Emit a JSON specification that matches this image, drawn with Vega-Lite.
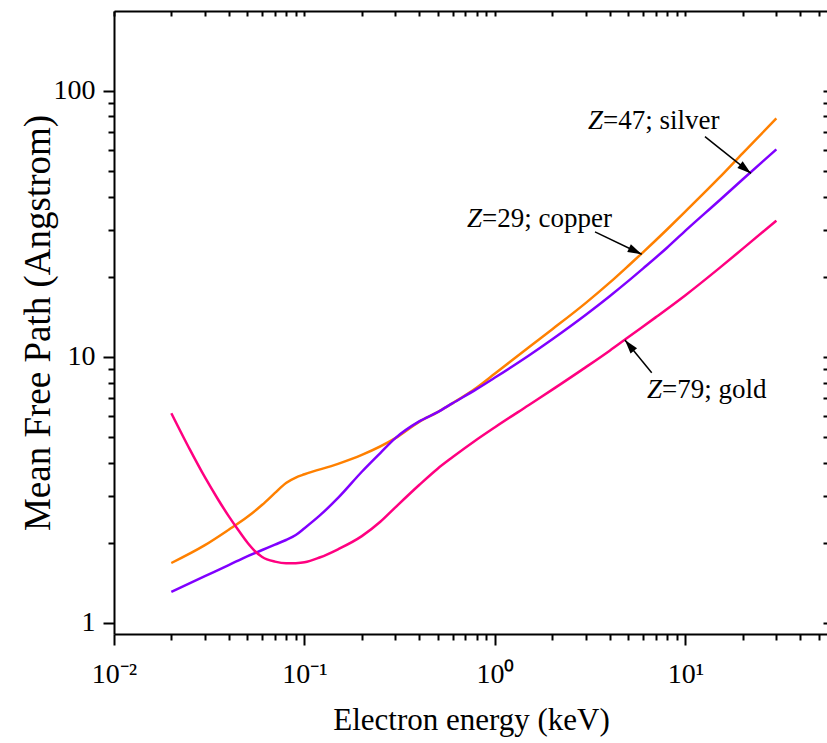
{
  "$schema": "https://vega.github.io/schema/vega-lite/v6.json",
  "width": 714,
  "height": 623,
  "autosize": {"type": "none"},
  "padding": {"left": 114, "top": 11, "right": 0, "bottom": 109},
  "background": "white",
  "config": {
    "view": {"stroke": null},
    "font": "Liberation Serif",
    "axis": {
      "grid": false,
      "ticks": true,
      "domainColor": "#000000",
      "domainWidth": 2,
      "tickColor": "#000000",
      "tickOpacity": 1,
      "tickWidth": 2,
      "labelColor": "#000000",
      "labelFont": "Liberation Serif",
      "labelFontSize": 28,
      "labelOverlap": false,
      "labelFlush": false,
      "titleColor": "#000000",
      "titleFont": "Liberation Serif",
      "titleFontWeight": "normal",
      "zindex": 1
    }
  },
  "datasets": {
    "curves": [
      {"metal": "copper", "energy": 0.02, "mfp": 1.68},
      {"metal": "copper", "energy": 0.03, "mfp": 1.96},
      {"metal": "copper", "energy": 0.04, "mfp": 2.24},
      {"metal": "copper", "energy": 0.05, "mfp": 2.50},
      {"metal": "copper", "energy": 0.06, "mfp": 2.78},
      {"metal": "copper", "energy": 0.07, "mfp": 3.08},
      {"metal": "copper", "energy": 0.08, "mfp": 3.36},
      {"metal": "copper", "energy": 0.09, "mfp": 3.52},
      {"metal": "copper", "energy": 0.1, "mfp": 3.62},
      {"metal": "copper", "energy": 0.15, "mfp": 3.96},
      {"metal": "copper", "energy": 0.2, "mfp": 4.28},
      {"metal": "copper", "energy": 0.3, "mfp": 4.95},
      {"metal": "copper", "energy": 0.4, "mfp": 5.7},
      {"metal": "copper", "energy": 0.5, "mfp": 6.2},
      {"metal": "copper", "energy": 0.6, "mfp": 6.7},
      {"metal": "copper", "energy": 0.8, "mfp": 7.65},
      {"metal": "copper", "energy": 1, "mfp": 8.65},
      {"metal": "copper", "energy": 1.5, "mfp": 10.85},
      {"metal": "copper", "energy": 2, "mfp": 12.7},
      {"metal": "copper", "energy": 3, "mfp": 15.95},
      {"metal": "copper", "energy": 4, "mfp": 19.0},
      {"metal": "copper", "energy": 5, "mfp": 21.95},
      {"metal": "copper", "energy": 6, "mfp": 24.75},
      {"metal": "copper", "energy": 8, "mfp": 30.1},
      {"metal": "copper", "energy": 10, "mfp": 35.2},
      {"metal": "copper", "energy": 15, "mfp": 47.0},
      {"metal": "copper", "energy": 20, "mfp": 58.3},
      {"metal": "copper", "energy": 30, "mfp": 78.7},

      {"metal": "silver", "energy": 0.02, "mfp": 1.31},
      {"metal": "silver", "energy": 0.03, "mfp": 1.50},
      {"metal": "silver", "energy": 0.04, "mfp": 1.65},
      {"metal": "silver", "energy": 0.05, "mfp": 1.78},
      {"metal": "silver", "energy": 0.06, "mfp": 1.88},
      {"metal": "silver", "energy": 0.07, "mfp": 1.97},
      {"metal": "silver", "energy": 0.08, "mfp": 2.05},
      {"metal": "silver", "energy": 0.09, "mfp": 2.14},
      {"metal": "silver", "energy": 0.1, "mfp": 2.27},
      {"metal": "silver", "energy": 0.12, "mfp": 2.53},
      {"metal": "silver", "energy": 0.15, "mfp": 2.95},
      {"metal": "silver", "energy": 0.2, "mfp": 3.70},
      {"metal": "silver", "energy": 0.25, "mfp": 4.35},
      {"metal": "silver", "energy": 0.3, "mfp": 4.95},
      {"metal": "silver", "energy": 0.4, "mfp": 5.72},
      {"metal": "silver", "energy": 0.5, "mfp": 6.2},
      {"metal": "silver", "energy": 0.6, "mfp": 6.7},
      {"metal": "silver", "energy": 0.8, "mfp": 7.56},
      {"metal": "silver", "energy": 1, "mfp": 8.36},
      {"metal": "silver", "energy": 1.5, "mfp": 10.1},
      {"metal": "silver", "energy": 2, "mfp": 11.65},
      {"metal": "silver", "energy": 3, "mfp": 14.4},
      {"metal": "silver", "energy": 4, "mfp": 16.9},
      {"metal": "silver", "energy": 5, "mfp": 19.25},
      {"metal": "silver", "energy": 6, "mfp": 21.5},
      {"metal": "silver", "energy": 8, "mfp": 25.7},
      {"metal": "silver", "energy": 10, "mfp": 29.8},
      {"metal": "silver", "energy": 15, "mfp": 38.6},
      {"metal": "silver", "energy": 20, "mfp": 46.5},
      {"metal": "silver", "energy": 30, "mfp": 60.2},

      {"metal": "gold", "energy": 0.02, "mfp": 6.14},
      {"metal": "gold", "energy": 0.025, "mfp": 4.49},
      {"metal": "gold", "energy": 0.03, "mfp": 3.53},
      {"metal": "gold", "energy": 0.035, "mfp": 2.93},
      {"metal": "gold", "energy": 0.04, "mfp": 2.52},
      {"metal": "gold", "energy": 0.045, "mfp": 2.23},
      {"metal": "gold", "energy": 0.05, "mfp": 2.01},
      {"metal": "gold", "energy": 0.055, "mfp": 1.86},
      {"metal": "gold", "energy": 0.06, "mfp": 1.77},
      {"metal": "gold", "energy": 0.07, "mfp": 1.70},
      {"metal": "gold", "energy": 0.08, "mfp": 1.675},
      {"metal": "gold", "energy": 0.09, "mfp": 1.678},
      {"metal": "gold", "energy": 0.1, "mfp": 1.69},
      {"metal": "gold", "energy": 0.12, "mfp": 1.762},
      {"metal": "gold", "energy": 0.15, "mfp": 1.892},
      {"metal": "gold", "energy": 0.2, "mfp": 2.12},
      {"metal": "gold", "energy": 0.25, "mfp": 2.40},
      {"metal": "gold", "energy": 0.3, "mfp": 2.72},
      {"metal": "gold", "energy": 0.4, "mfp": 3.30},
      {"metal": "gold", "energy": 0.5, "mfp": 3.80},
      {"metal": "gold", "energy": 0.6, "mfp": 4.20},
      {"metal": "gold", "energy": 0.8, "mfp": 4.88},
      {"metal": "gold", "energy": 1, "mfp": 5.44},
      {"metal": "gold", "energy": 1.5, "mfp": 6.58},
      {"metal": "gold", "energy": 2, "mfp": 7.53},
      {"metal": "gold", "energy": 3, "mfp": 9.15},
      {"metal": "gold", "energy": 4, "mfp": 10.55},
      {"metal": "gold", "energy": 5, "mfp": 11.85},
      {"metal": "gold", "energy": 7, "mfp": 14.1},
      {"metal": "gold", "energy": 10, "mfp": 17.05},
      {"metal": "gold", "energy": 15, "mfp": 21.5},
      {"metal": "gold", "energy": 20, "mfp": 25.5},
      {"metal": "gold", "energy": 30, "mfp": 32.5}
    ],
    "notes": [
      {"energy": 3.69, "mfp": 71.8, "symbol": "Z", "rest": "=47; silver"},
      {"energy": 0.855, "mfp": 30.8, "symbol": "Z", "rest": "=29; copper"},
      {"energy": 7.53, "mfp": 7.01, "symbol": "Z", "rest": "=79; gold"}
    ],
    "arrows": [
      {"e0": 12.66, "m0": 67.2, "e1": 22.07, "m1": 48.9},
      {"e0": 3.35, "m0": 29.5, "e1": 5.89, "m1": 24.3},
      {"e0": 6.65, "m0": 8.72, "e1": 4.81, "m1": 11.57}
    ]
  },
  "layer": [
    {
      "data": {"name": "curves"},
      "mark": {"type": "line", "strokeWidth": 2.5, "interpolate": "monotone"},
      "encoding": {
        "x": {
          "field": "energy",
          "type": "quantitative",
          "scale": {"type": "log", "domain": [0.01, 56], "nice": false},
          "axis": {
            "orient": "bottom",
            "values": [0.01, 0.1, 1, 10],
            "labelExpr": "datum.value == 0.01 ? '10⁻²' : datum.value == 0.1 ? '10⁻¹' : datum.value == 1 ? '10⁰' : '10¹'",
            "tickSize": 11,
            "tickWidth": 2,
            "labelPadding": 15,
            "title": "Electron energy (keV)",
            "titleFontSize": 31,
            "titlePadding": 17
          }
        },
        "y": {
          "field": "mfp",
          "type": "quantitative",
          "scale": {"type": "log", "domain": [0.909, 199.3], "nice": false},
          "axis": {
            "orient": "left",
            "values": [1, 10, 100],
            "labelExpr": "datum.value == 1 ? '1' : datum.value == 10 ? '10' : '100'",
            "tickSize": 11,
            "tickWidth": 2,
            "labelPadding": 8,
            "title": "Mean Free Path (Angstrom)",
            "titleFontSize": 37,
            "titlePadding": -4
          }
        },
        "color": {
          "field": "metal",
          "type": "nominal",
          "scale": {"domain": ["copper", "silver", "gold"], "range": ["#FF8000", "#8000FF", "#FF0080"]},
          "legend": null
        }
      }
    },
    {
      "data": {"name": "arrows"},
      "mark": {"type": "rule", "color": "black", "strokeWidth": 1.5},
      "encoding": {
        "x": {
          "field": "e0",
          "type": "quantitative",
          "axis": {
            "orient": "top",
            "values": [0.01, 0.02, 0.03, 0.04, 0.05, 0.06, 0.07, 0.08, 0.09, 0.1, 0.2, 0.3, 0.4, 0.5, 0.6, 0.7, 0.8, 0.9, 1, 2, 3, 4, 5, 6, 7, 8, 9, 10, 20, 30, 40, 50],
            "labels": false,
            "tickSize": -5,
            "title": null
          }
        },
        "y": {
          "field": "m0",
          "type": "quantitative",
          "axis": {
            "orient": "right",
            "values": [1, 2, 3, 4, 5, 6, 7, 8, 9, 10, 20, 30, 40, 50, 60, 70, 80, 90, 100],
            "labels": false,
            "tickSize": -5,
            "title": null
          }
        },
        "x2": {"field": "e1"},
        "y2": {"field": "m1"}
      }
    },
    {
      "data": {"name": "arrows"},
      "mark": {
        "type": "point",
        "shape": "M0,0L-1,-0.3L-1,0.3Z",
        "filled": true,
        "color": "black",
        "opacity": 1,
        "size": 784
      },
      "encoding": {
        "x": {
          "field": "e1",
          "type": "quantitative",
          "axis": {
            "orient": "bottom",
            "values": [0.02, 0.03, 0.04, 0.05, 0.06, 0.07, 0.08, 0.09, 0.2, 0.3, 0.4, 0.5, 0.6, 0.7, 0.8, 0.9, 2, 3, 4, 5, 6, 7, 8, 9, 20, 30, 40, 50],
            "labels": false,
            "domain": false,
            "tickWidth": 2,
            "tickSize": 6,
            "title": null
          }
        },
        "y": {
          "field": "m1",
          "type": "quantitative",
          "axis": {
            "orient": "left",
            "values": [2, 3, 4, 5, 6, 7, 8, 9, 20, 30, 40, 50, 60, 70, 80, 90],
            "labels": false,
            "domain": false,
            "tickWidth": 2,
            "tickSize": 6,
            "title": null
          }
        },
        "angle": {"value": {"expr": "atan2(scale('y', datum.m1) - scale('y', datum.m0), scale('x', datum.e1) - scale('x', datum.e0)) * 180 / PI"}}
      }
    },
    {
      "data": {"name": "notes"},
      "mark": {"type": "text", "align": "right", "baseline": "alphabetic", "fontSize": 27, "fontStyle": "italic", "font": "Liberation Serif", "color": "black"},
      "encoding": {
        "x": {"field": "energy", "type": "quantitative", "axis": null},
        "y": {"field": "mfp", "type": "quantitative", "axis": null},
        "text": {"field": "symbol"}
      }
    },
    {
      "data": {"name": "notes"},
      "mark": {"type": "text", "align": "left", "baseline": "alphabetic", "fontSize": 27, "font": "Liberation Serif", "color": "black"},
      "encoding": {
        "x": {"field": "energy", "type": "quantitative", "axis": null},
        "y": {"field": "mfp", "type": "quantitative", "axis": null},
        "text": {"field": "rest"}
      }
    }
  ],
  "resolve": {"axis": {"x": "independent", "y": "independent"}}
}
